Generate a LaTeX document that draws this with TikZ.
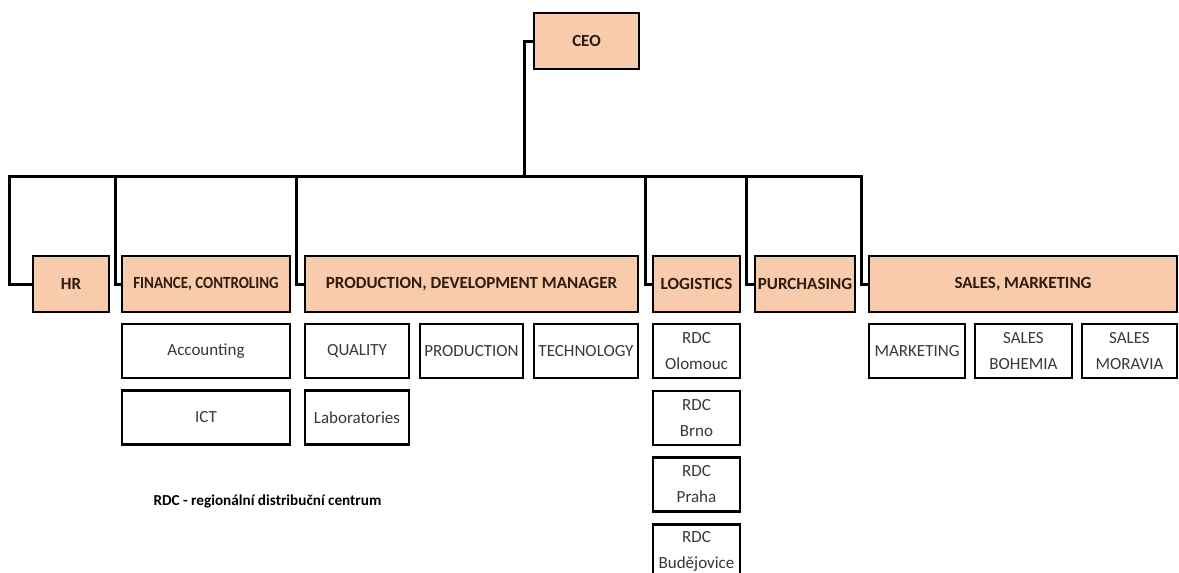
\documentclass[tikz,border=0pt]{standalone}
\usepackage{fontspec}
\setmainfont{Carlito}
\definecolor{peach}{HTML}{F8CBAD}
\definecolor{ink}{HTML}{2E1C10}

\begin{document}
\begin{tikzpicture}[x=1pt,y=-1pt,
    head/.style={draw=black,line width=2.3pt,fill=peach,minimum height=56pt,inner sep=0pt,
        text=ink,font=\bfseries\fontsize{17}{20}\selectfont},
    unit/.style={draw=black,line width=2.3pt,fill=white,minimum height=54pt,inner sep=0pt,
        align=center,text=black!78,font=\fontsize{17}{26}\selectfont},
    link/.style={line width=3pt}]
                \useasboundingbox (0,0) rectangle (1179,573);
                \node[head,minimum width=105pt] (ceo) at (586.5,41) {CEO};
                \node[head,minimum width=76pt] (hr) at (71,284) {HR};
                \node[head,minimum width=168pt] (finance) at (206,284) {\scalebox{0.88}[1]{FINANCE, CONTROLING}};
                \node[head,minimum width=333pt] (prodmgr) at (471.5,284) {PRODUCTION, DEVELOPMENT MANAGER};
                \node[head,minimum width=87pt] (logistics) at (696.5,284) {LOGISTICS};
                \node[head,minimum width=100pt] (purchasing) at (805,284) {PURCHASING};
                \node[head,minimum width=308pt] (sales) at (1023,284) {SALES, MARKETING};
                \coordinate (bus) at (524,176);
                \foreach \c/\d in {hr/22,finance/5,prodmgr/7,logistics/6,purchasing/7,sales/6}{
                    \draw[link] (ceo.west) -| (bus) -| ([xshift=-\d pt]\c.west) -- (\c.west);
                }
                \node[unit,minimum width=168pt] (accounting) at (206,351) {Accounting};
                \node[unit,minimum width=168pt] (ict) at (206,417.5) {ICT};
                \node[unit,minimum width=104pt] (quality) at (357,351) {QUALITY};
                \node[unit,minimum width=104pt] (labs) at (357,417.5) {Laboratories};
                \node[unit,minimum width=103pt] (production) at (471.5,351) {PRODUCTION};
                \node[unit,minimum width=104pt] (technology) at (586,351) {TECHNOLOGY};
                \foreach \n/\y/\t in {1/351/Olomouc,2/418/Brno,3/484.5/Praha,4/551.5/Budějovice}{
                    \node[unit,minimum width=87pt] (rdc\n) at (696.5,\y) {RDC\\\t};
                }
                \node[unit,minimum width=96pt] (marketing) at (917,351) {MARKETING};
                \node[unit,minimum width=97pt] (salesbohemia) at (1023.5,351) {SALES\\BOHEMIA};
                \node[unit,minimum width=95pt] (salesmoravia) at (1129.5,351) {SALES\\MORAVIA};
                \node[anchor=west,font=\bfseries\fontsize{15.2}{18}\selectfont] (note) at (150,501) {RDC - regionální distribuční centrum};
            \end{tikzpicture}
\end{document}
